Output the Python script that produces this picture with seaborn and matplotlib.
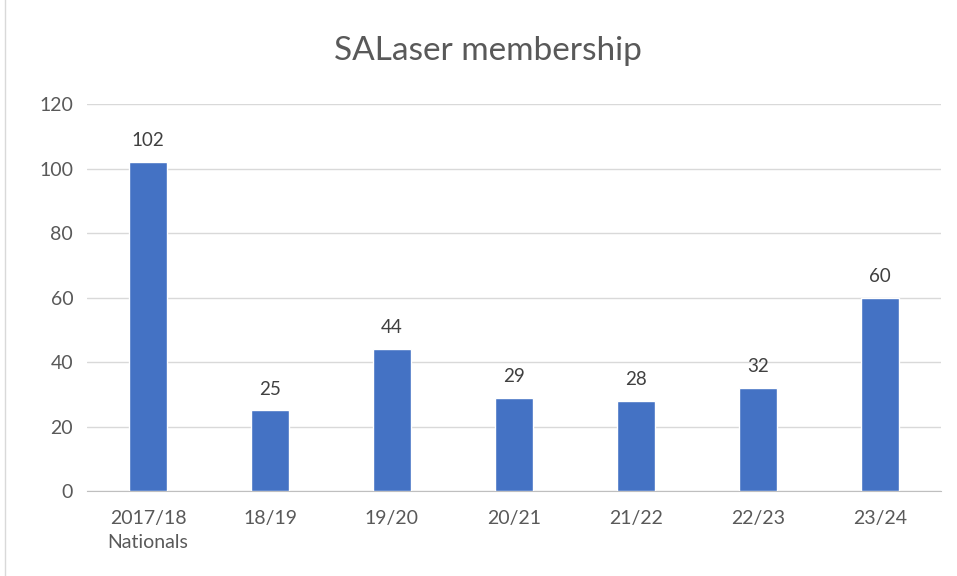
import matplotlib
matplotlib.use("Agg")
import matplotlib.pyplot as plt
import pandas as pd
import seaborn as sns
from matplotlib.patches import Rectangle

seasons = ["2017/18\nNationals", "18/19", "19/20", "20/21", "21/22", "22/23", "23/24"]
members = [102, 25, 44, 29, 28, 32, 60]
y_ticks = [0, 20, 40, 60, 80, 100, 120]

sns.set_style("white")
plt.rcParams["font.family"] = ["Lato", "DejaVu Sans"]

df = pd.DataFrame({"season": seasons, "members": members})

fig = plt.figure(figsize=(9.57, 5.76), dpi=100)
ax = fig.add_axes([0.091, 0.1476, 0.892, 0.6714])

sns.barplot(data=df, x="season", y="members", color="#4472C4", width=0.31,
            saturation=1, ax=ax, zorder=3)

for i, v in enumerate(members):
    ax.text(i, v + 4, str(v), ha="center", va="bottom", fontsize=13.5, color="#404040")

ax.set_ylim(0, 120)
ax.set_yticks(y_ticks)
ax.set_xlim(-0.5, len(seasons) - 0.5)
ax.yaxis.grid(True, color="#D9D9D9", linewidth=1, zorder=0)
ax.xaxis.grid(False)
for side in ["top", "right", "left"]:
    ax.spines[side].set_visible(False)
ax.spines["bottom"].set_color("#BFBFBF")
ax.tick_params(axis="y", length=0, labelsize=14, labelcolor="#595959", pad=10)
ax.tick_params(axis="x", length=0, labelsize=14, labelcolor="#595959", pad=14)
for lbl in ax.get_xticklabels():
    lbl.set_linespacing(1.5)
ax.set_xlabel("")
ax.set_ylabel("")

fig.text(0.51, 0.912, "SALaser membership", ha="center", va="center",
         fontsize=24, color="#595959")

fig.patches.append(Rectangle((0.005, -0.01), 1.2, 1.2, transform=fig.transFigure,
                             fill=False, edgecolor="#D9D9D9", linewidth=1))

fig.savefig("out.png", dpi=100)
